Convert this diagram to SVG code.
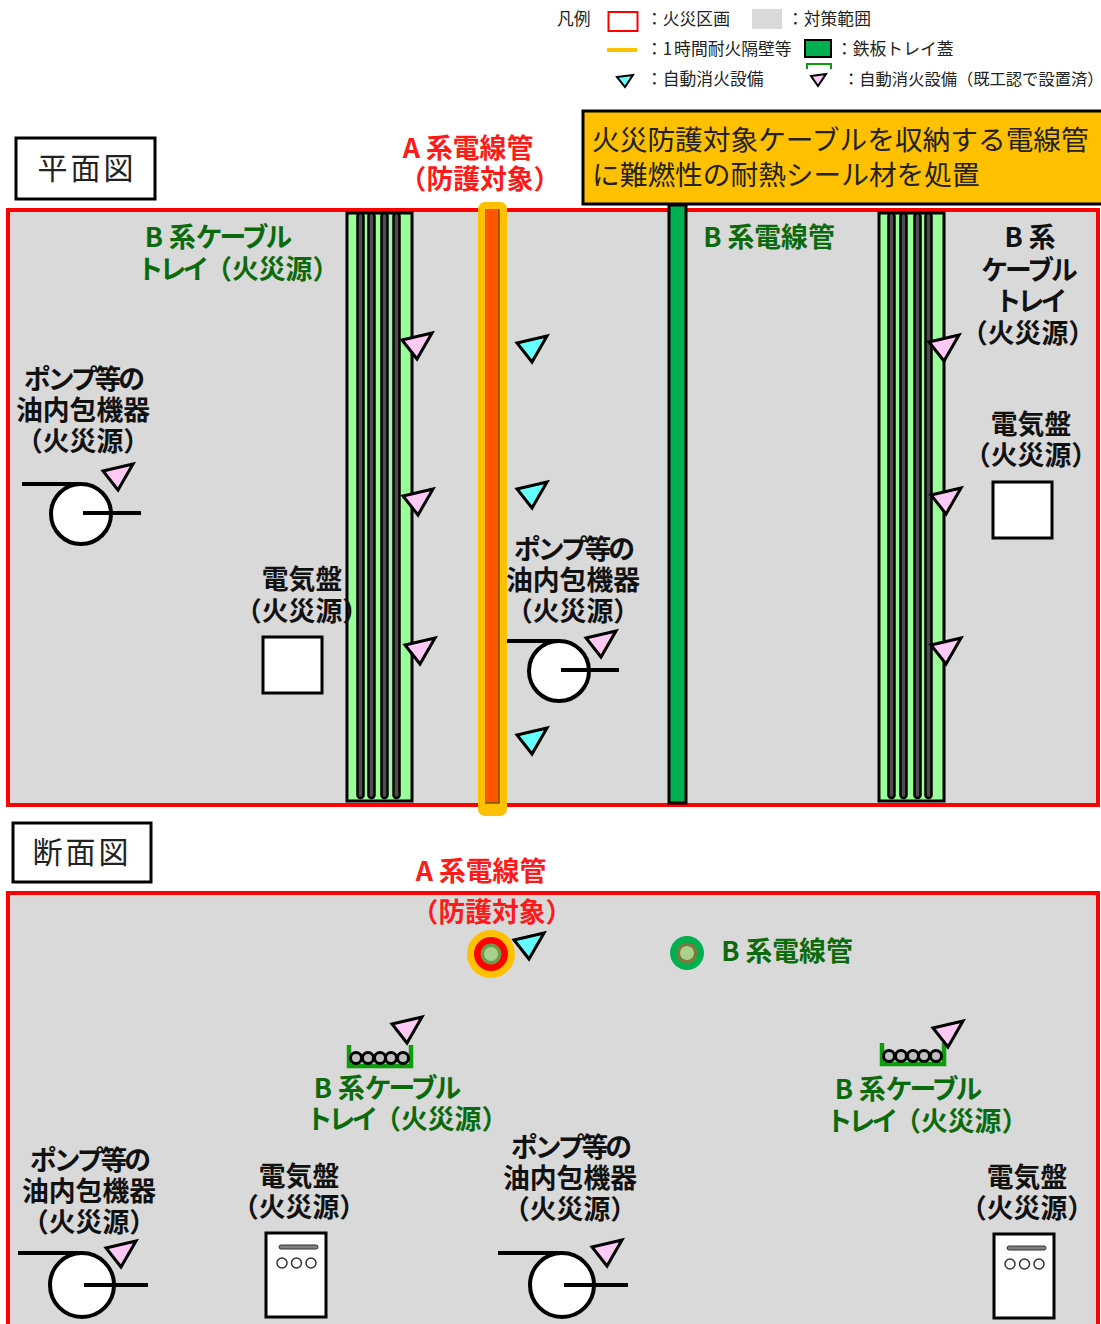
<svg xmlns="http://www.w3.org/2000/svg" xmlns:xlink="http://www.w3.org/1999/xlink" width="1101" height="1324" viewBox="0 0 1101 1324">
<style>
text{font-family:"Noto Sans CJK JP","Noto Sans",sans-serif}
.l{font-size:16.8px;fill:#222}
.b{font-size:26.8px;font-weight:700;text-anchor:middle;fill:#111}
.g{fill:#0B6A0B}
.r{fill:#FF1A1A}
.t{font-size:30px;text-anchor:middle;fill:#222;letter-spacing:3px}
.c{font-size:27.7px;fill:#222}
.n3{letter-spacing:-3px}
.n4{letter-spacing:-4px}
.k{fill:none;stroke:#000;stroke-width:4}
.w{fill:#fff;stroke:#000;stroke-width:4}
.box{fill:#fff;stroke:#000;stroke-width:3}
.zone{fill:#D9D9D9;stroke:#FF0000;stroke-width:4}
.cy{fill:#66FFFF;stroke:#000;stroke-width:3;stroke-linejoin:miter}
.pk{fill:#FFC9F5;stroke:#000;stroke-width:3;stroke-linejoin:miter}
.cable{fill:#4d4d4d;stroke:#000;stroke-width:2.5}
.tray{fill:#99FF99;stroke:#000;stroke-width:3}
</style>
<defs>
<polygon id="tc" class="cy" points="0,0 30,-7 15,19"/>
<polygon id="tp" class="pk" points="0,0 30,-7 15,19"/>
<g id="pump"><circle class="w" cx="0" cy="0" r="30"/><path class="k" d="M-59,-30H0M2,-1H60"/></g>
<g id="pump2"><circle class="w" cx="0" cy="0" r="30"/><path class="k" d="M-52,-30H0M2,-1H60"/></g>
<g id="pumpS"><circle class="w" cx="0" cy="0" r="32"/><path class="k" d="M-64,-32H0M2,0H66"/></g>
<g id="panel"><rect class="box" x="0" y="0" width="60" height="84"/><rect x="13" y="12" width="39" height="4" rx="2" fill="#7f7f7f" stroke="#333"/><g fill="none" stroke="#333" stroke-width="1.5"><circle cx="16" cy="30" r="5"/><circle cx="30.500" cy="30" r="5"/><circle cx="45" cy="30" r="5"/></g></g>
<g id="trayS"><path d="M1,0V21H63V0" fill="none" stroke="#0A9E0A" stroke-width="4.500"/><g fill="#BFBFBF" stroke="#000" stroke-width="3"><circle cx="8" cy="13" r="5.500"/><circle cx="20" cy="13" r="5.500"/><circle cx="32" cy="13" r="5.500"/><circle cx="43" cy="13" r="5.500"/><circle cx="55" cy="13" r="5.500"/></g></g>
</defs>

<g id="legend">
<text class="l" x="557" y="25">凡例</text>
<rect x="608.500" y="12" width="29" height="19" fill="#fff" stroke="#FF0000" stroke-width="2"/>
<text class="l" x="646" y="25">：火災区画</text>
<rect x="752" y="9" width="30" height="20" fill="#D9D9D9"/>
<text class="l" x="787" y="25">：対策範囲</text>
<path d="M607,50H637" stroke="#FFC000" stroke-width="4"/>
<text class="l" x="646" y="55">：1<tspan dx="2">時間耐火隔壁等</tspan></text>
<rect x="805" y="40" width="26" height="17" fill="#00B050" stroke="#000" stroke-width="2"/>
<text class="l" x="836" y="55">：鉄板トレイ蓋</text>
<path d="M807,69V64H831V69" fill="none" stroke="#0A9E0A" stroke-width="2"/>
<polygon points="617,77 633,75 625,87" fill="#66FFFF" stroke="#000" stroke-width="2"/>
<text class="l" x="646" y="85">：自動消火設備</text>
<polygon points="811,76 826,74 818,86" fill="#FFC9F5" stroke="#000" stroke-width="2"/>
<text class="l" x="843" y="85" style="font-size:16.3px">：自動消火設備（既工認で設置済）</text>
</g>

<g id="plan-zone"><rect class="zone" x="8" y="210" width="1090" height="595"/></g>
<g id="plan-title"><rect class="box" x="16" y="138" width="139" height="61"/><text class="t" x="87" y="179">平面図</text></g>
<g id="callout"><rect x="583" y="111" width="525" height="93" fill="#FFC000" stroke="#000" stroke-width="3"/><text class="c" x="592" y="150">火災防護対象ケーブルを収納する電線管</text><text class="c" x="592" y="185">に難燃性の耐熱シール材を処置</text></g>

<g id="plan-tray-left">
<rect class="tray" x="347" y="213" width="65" height="588"/>
<rect class="cable" x="357.500" y="213" width="6" height="585" rx="3"/><rect class="cable" x="368.500" y="213" width="6" height="585" rx="3"/><rect class="cable" x="381.500" y="213" width="6" height="585" rx="3"/><rect class="cable" x="393.500" y="213" width="6" height="585" rx="3"/>
</g>
<g id="plan-tray-right">
<rect class="tray" x="879" y="213" width="65" height="588"/>
<rect class="cable" x="888.500" y="213" width="6" height="585" rx="3"/><rect class="cable" x="900.500" y="213" width="6" height="585" rx="3"/><rect class="cable" x="914.500" y="213" width="6" height="585" rx="3"/><rect class="cable" x="925.500" y="213" width="6" height="585" rx="3"/>
</g>
<g id="plan-conduit-a">
<rect x="478" y="202" width="29" height="614" rx="7" fill="#FFC000"/>
<rect x="485" y="209" width="14" height="594" fill="#FF5500"/>
<path d="M499,209V803H485" fill="none" stroke="#6b5a10" stroke-width="1.500"/>
</g>
<g id="plan-conduit-b"><rect x="669" y="205" width="17" height="598" fill="#00B050" stroke="#000" stroke-width="3"/></g>

<g id="plan-triangles">
<use xlink:href="#tp" x="402" y="340"/><use xlink:href="#tp" x="403" y="496"/><use xlink:href="#tp" x="405" y="645"/>
<use xlink:href="#tp" x="929" y="342"/><use xlink:href="#tp" x="931" y="495"/><use xlink:href="#tp" x="931" y="645"/>
<use xlink:href="#tc" x="517" y="343"/><use xlink:href="#tc" x="517" y="489"/><use xlink:href="#tc" x="517" y="735"/>
</g>

<g id="plan-pump-left"><use xlink:href="#pump" x="81" y="514"/><use xlink:href="#tp" x="103" y="471"/>
<text class="b n3" x="83" y="389">ポンプ等の</text><text class="b" x="83" y="420">油内包機器</text><text class="b" x="83" y="451">（火災源）</text></g>
<g id="plan-pump-center"><use xlink:href="#pump2" x="559" y="671"/><use xlink:href="#tp" x="586" y="638"/>
<text class="b n3" x="573" y="559">ポンプ等の</text><text class="b" x="573" y="590">油内包機器</text><text class="b" x="573" y="621">（火災源）</text></g>
<g id="plan-panel-left"><rect class="box" x="263" y="637" width="59" height="56"/><text class="b" x="302" y="589">電気盤</text><text class="b" x="302" y="621">（火災源）</text></g>
<g id="plan-panel-right"><rect class="box" x="993" y="482" width="59" height="56"/><text class="b" x="1031" y="434">電気盤</text><text class="b" x="1031" y="465">（火災源）</text></g>

<g id="plan-labels">
<text class="b r" x="468" y="158">A<tspan dx="6">系電線管</tspan></text><text class="b r" x="480" y="189">（防護対象）</text>
<text class="b g" x="217" y="247">B<tspan dx="6">系</tspan><tspan class="n3">ケーブル</tspan></text><text class="b g" x="238" y="279"><tspan class="n4">トレイ</tspan>（火災源）</text>
<text class="b g" x="769" y="247">B<tspan dx="6">系電線管</tspan></text>
<text class="b" x="1030" y="247">B<tspan dx="6">系</tspan></text><text class="b n3" x="1028" y="280">ケーブル</text><text class="b n4" x="1029" y="311">トレイ</text><text class="b" x="1028" y="343">（火災源）</text>
</g>

<g id="section-zone"><rect class="zone" x="8" y="893" width="1090" height="450"/></g>
<g id="section-title"><rect class="box" x="13" y="823" width="138" height="59"/><text class="t" x="82" y="863">断面図</text></g>

<g id="section-conduit-a"><circle cx="491" cy="954" r="24" fill="#FFC000"/><circle cx="491" cy="954" r="17" fill="#FF0000"/><circle cx="491" cy="954" r="10.500" fill="#6F9A4A"/><circle cx="491" cy="954" r="7" fill="#A9D18E"/><use xlink:href="#tc" x="514" y="940"/>
<text class="b r" x="481" y="881">A<tspan dx="6">系電線管</tspan></text><text class="b r" x="492" y="922">（防護対象）</text></g>
<g id="section-conduit-b"><circle cx="687" cy="953" r="17" fill="#00B050"/><circle cx="687" cy="953" r="10.500" fill="#7A7A3A"/><circle cx="687" cy="953" r="7" fill="#A9D18E"/>
<text class="b g" x="787" y="961">B<tspan dx="6">系電線管</tspan></text></g>
<g id="section-tray-left"><use xlink:href="#trayS" x="348" y="1045"/><use xlink:href="#tp" x="392" y="1024"/>
<text class="b g" x="386" y="1098">B<tspan dx="6">系</tspan><tspan class="n3">ケーブル</tspan></text><text class="b g" x="407" y="1129"><tspan class="n4">トレイ</tspan>（火災源）</text></g>
<g id="section-tray-right"><use xlink:href="#trayS" x="881" y="1043"/><use xlink:href="#tp" x="933" y="1028"/>
<text class="b g" x="907" y="1099">B<tspan dx="6">系</tspan><tspan class="n3">ケーブル</tspan></text><text class="b g" x="927" y="1131"><tspan class="n4">トレイ</tspan>（火災源）</text></g>
<g id="section-pump-left"><use xlink:href="#pumpS" x="82" y="1285"/><use xlink:href="#tp" x="106" y="1248"/>
<text class="b n3" x="89" y="1170">ポンプ等の</text><text class="b" x="89" y="1201">油内包機器</text><text class="b" x="89" y="1232">（火災源）</text></g>
<g id="section-pump-center"><use xlink:href="#pumpS" x="562" y="1285"/><use xlink:href="#tp" x="592" y="1247"/>
<text class="b n3" x="570" y="1157">ポンプ等の</text><text class="b" x="570" y="1188">油内包機器</text><text class="b" x="570" y="1219">（火災源）</text></g>
<g id="section-panel-left"><use xlink:href="#panel" x="266" y="1233"/><text class="b" x="299" y="1186">電気盤</text><text class="b" x="299" y="1217">（火災源）</text></g>
<g id="section-panel-right"><use xlink:href="#panel" x="994" y="1234"/><text class="b" x="1027" y="1187">電気盤</text><text class="b" x="1027" y="1218">（火災源）</text></g>
</svg>
